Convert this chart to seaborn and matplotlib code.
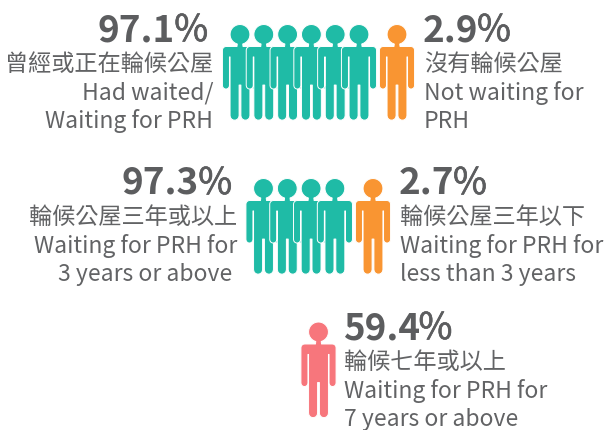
import numpy as np
import pandas as pd
import matplotlib
matplotlib.use("Agg")
import matplotlib.pyplot as plt
import matplotlib.patheffects as pe
from matplotlib.path import Path
import seaborn as sns

# values
pct_left = ["97.1", "97.3"]
pct_right = ["2.9", "2.7"]
pct_red = "59.4"
people_main = [6, 4]
people_other = [1, 1]
people_red = 1

zh_left = ["曾經或正在輪候公屋", "輪候公屋三年或以上"]
en_left = [["Had waited/", "Waiting for PRH"], ["Waiting for PRH for", "3 years or above "]]
zh_right = ["沒有輪候公屋", "輪候公屋三年以下"]
en_right = [["Not waiting for", "PRH"], ["Waiting for PRH for", "less than 3 years"]]
zh_red = "輪候七年或以上"
en_red = ["Waiting for PRH for", "7 years or above"]

TEAL = "#1fbba6"
ORANGE = "#f99532"
RED = "#f7767c"
GREY = "#5c5d5f"
TXT_GREY = "#626365"
FONT = ["Noto Sans CJK TC", "DejaVu Sans"]
PCT_SIZE = 26.5
ZH_SIZE = 16.7
EN_SIZE = 16.5

sns.set_theme(style="white")
plt.rcParams["font.family"] = FONT


def arc(cx, cy, r, a0, a1, n=16):
    t = np.radians(np.linspace(a0, a1, n))
    return np.column_stack([cx + r * np.cos(t), cy + r * np.sin(t)])


# one person, y going up, centered on 0 (px units), only the right half then mirrored
def person_path():
    H = 95.0
    half = [
        arc(0, 9.6, 9.9, -90, 74),        # head
        [[3.0, 21.6], [13.8, 21.6]],      # neck + shoulder
        arc(13.8, 25.3, 3.7, -90, 0, 6),
        arc(14.0, 60.5, 3.5, 0, 180, 8),  # arm end
        [[10.5, 32.0], [9.9, 32.0]],
        arc(5.4, 90.5, 4.5, 0, 180, 8),   # foot
        [[0.9, 60.0], [0.0, 60.0]],
    ]
    half = np.vstack(half)
    left = half[::-1][1:-1] * [-1, 1]
    pts = np.vstack([half, left, half[:1]])
    pts = np.column_stack([pts[:, 0], H / 2 - pts[:, 1]])
    codes = [Path.MOVETO] + [Path.LINETO] * (len(pts) - 2) + [Path.CLOSEPOLY]
    return Path(pts, codes)


fig, ax = plt.subplots(figsize=(6.06, 4.30), dpi=100)
fig.subplots_adjust(0, 0, 1, 1)

rows = []
for x0, y, n, kind in [(240, 72.5, people_main[0], "main"), (397, 72.5, people_other[0], "other"),
                       (263.5, 226.5, people_main[1], "main"), (373, 226.5, people_other[1], "other"),
                       (318.5, 370, people_red, "red")]:
    for i in range(n):
        rows.append({"x": x0 + i * 23.8, "y": y, "kind": kind})
df = pd.DataFrame(rows)

# marker is scaled so that it is 95 px high
size = (96 * 72 / 100) ** 2
sns.scatterplot(data=df, x="x", y="y", hue="kind", palette={"main": TEAL, "other": ORANGE, "red": RED},
                marker=person_path(), s=size, edgecolor="white", linewidth=0.7, legend=False, ax=ax, clip_on=False)

ax.set_xlim(0, 606)
ax.set_ylim(430, 0)
ax.axis("off")
ax.set_xlabel("")
ax.set_ylabel("")

renderer = fig.canvas.get_renderer()
# the % sign sits between regular and bold
semi = [pe.withStroke(linewidth=0.5, foreground=GREY)]


def pct_text(x, y, num, ha):
    if ha == "right":
        t = ax.text(x, y, "%", ha="right", va="baseline", fontsize=PCT_SIZE, color=GREY, path_effects=semi)
        bb = t.get_window_extent(renderer)
        ax.text(bb.x0 + 0.5, y, num, ha="right", va="baseline", fontsize=PCT_SIZE, color=GREY, fontweight="bold")
    else:
        t = ax.text(x - 1, y, num, ha="left", va="baseline", fontsize=PCT_SIZE, color=GREY, fontweight="bold")
        bb = t.get_window_extent(renderer)
        ax.text(bb.x1 - 1.5, y, "%", ha="left", va="baseline", fontsize=PCT_SIZE, color=GREY, path_effects=semi)


def block(x, y, num, zh, en, ha):
    pct_text(x - 5 if ha == "right" else x, y, num, ha)
    ax.text(x, y + 30, zh, ha=ha, va="baseline", fontsize=ZH_SIZE, color=TXT_GREY)
    for k, line in enumerate(en):
        ax.text(x, y + 59 + k * 28, line, ha=ha, va="baseline", fontsize=EN_SIZE, color=TXT_GREY)


block(213, 41, pct_left[0], zh_left[0], en_left[0], "right")
block(424, 41, pct_right[0], zh_right[0], en_right[0], "left")
block(237, 194, pct_left[1], zh_left[1], en_left[1], "right")
block(400, 194, pct_right[1], zh_right[1], en_right[1], "left")
block(344, 339, pct_red, zh_red, en_red, "left")

fig.savefig("out.png", dpi=100)
